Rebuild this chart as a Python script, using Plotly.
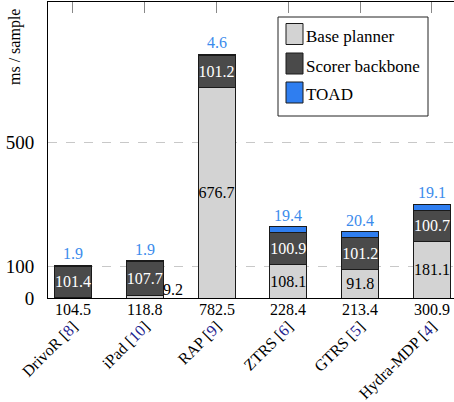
import plotly.graph_objects as go

categories = ["DrivoR", "iPad", "RAP", "ZTRS", "GTRS", "Hydra-MDP"]
citations = ["8", "10", "9", "6", "5", "4"]
base_planner = [1.2, 9.2, 676.7, 108.1, 91.8, 181.1]
scorer_backbone = [101.4, 107.7, 101.2, 100.9, 101.2, 100.7]
toad = [1.9, 1.9, 4.6, 19.4, 20.4, 19.1]
totals = [104.5, 118.8, 782.5, 228.4, 213.4, 300.9]
y_ticks = [0, 100, 500]
series_names = ["Base planner", "Scorer backbone", "TOAD"]

FONT = "Liberation Serif"
C_BASE = "#d3d3d3"
C_SCORER = "#4a4a4a"
C_TOAD = "#2f7ef0"
C_TOAD_TXT = "#3b8bec"
C_CITE = "#23238e"
series_colors = [C_BASE, C_SCORER, C_TOAD]

x = list(range(len(categories)))
ticktext = [f"{c} [<span style='color:{C_CITE}'>{r}</span>]" for c, r in zip(categories, citations)]

base_text = [f"{v:.1f}" if v >= 20 else "" for v in base_planner]
outline = dict(color="#1a1a1a", width=1)

fig = go.Figure()
fig.add_bar(x=x, y=base_planner, name=series_names[0], marker=dict(color=C_BASE, line=outline),
            text=base_text, textposition="inside", insidetextanchor="middle", textangle=0,
            insidetextfont=dict(color="black", size=16, family=FONT), width=0.515)
fig.add_bar(x=x, y=scorer_backbone, name=series_names[1], marker=dict(color=C_SCORER, line=outline),
            text=[f"{v:.1f}" for v in scorer_backbone], textposition="inside", insidetextanchor="middle", textangle=0,
            insidetextfont=dict(color="white", size=16, family=FONT), width=0.515)
fig.add_bar(x=x, y=toad, name=series_names[2], marker=dict(color=C_TOAD, line=outline), width=0.515)

W, H = 454, 402
ML, MR, MT, MB = 48, 0, 2, 104
pw, ph = W - ML - MR, H - MT - MB


def px(xp):
    return (xp - ML) / pw


def py(yp):
    return (H - MB - yp) / ph


annotations = []
shapes = []
for i, (b, s, t) in enumerate(zip(base_planner, scorer_backbone, toad)):
    annotations.append(dict(x=i, y=b + s + t, xref="x", yref="y", text=f"{t:.1f}", showarrow=False,
                            yanchor="bottom", yshift=1, font=dict(size=16, family=FONT, color=C_TOAD_TXT)))
for i, t in enumerate(totals):
    annotations.append(dict(x=i, y=0, xref="x", yref="y", text=f"{t:.1f}", showarrow=False,
                            yanchor="top", yshift=-1, font=dict(size=16, family=FONT, color="black")))
for i, v in enumerate(base_planner):
    if 5 <= v < 20:
        annotations.append(dict(x=i + 0.26, y=0, xref="x", yref="y", text=f"{v:.1f}", showarrow=False,
                                xanchor="left", yanchor="bottom", xshift=-2, yshift=-2,
                                font=dict(size=16, family=FONT, color="black")))
annotations.append(dict(x=px(15), y=py(47), xref="paper", yref="paper", text="ms / sample",
                        showarrow=False, textangle=-90, xanchor="center", yanchor="middle",
                        font=dict(size=16, family=FONT, color="black")))

# custom legend box
shapes.append(dict(type="rect", xref="paper", yref="paper", x0=px(278), x1=px(428), y0=py(116), y1=py(17),
                   line=dict(color="#222", width=1), fillcolor="white", layer="above"))
row_y = [34, 63.5, 92.5]
for name, col, ry in zip(series_names, series_colors, row_y):
    shapes.append(dict(type="rect", xref="paper", yref="paper", x0=px(286), x1=px(303),
                       y0=py(ry + 10.5), y1=py(ry - 10.5), line=dict(color="#1a1a1a", width=1),
                       fillcolor=col, layer="above"))
    annotations.append(dict(x=px(304), y=py(ry + 2.5), xref="paper", yref="paper", text=name, showarrow=False,
                            xanchor="left", yanchor="middle", font=dict(size=17, family=FONT, color="black")))

fig.update_layout(
    width=W, height=H,
    margin=dict(l=ML, r=MR, t=MT, b=MB),
    barmode="stack",
    plot_bgcolor="white", paper_bgcolor="white",
    font=dict(family=FONT, size=16, color="black"),
    uniformtext=dict(minsize=16, mode="show"),
    showlegend=False,
    annotations=annotations,
    shapes=shapes,
)

fig.update_xaxes(range=[-0.348, 5.307], tickmode="array", tickvals=x, ticktext=ticktext, tickangle=-45,
                 showline=True, linecolor="black", linewidth=1, mirror="ticks", ticks="inside", ticklen=11,
                 tickcolor="#888", showgrid=False, ticklabelstandoff=12, layer="below traces",
                 automargin=False, tickfont=dict(size=16, family=FONT))
fig.update_yaxes(range=[0, 950], tickmode="array", tickvals=y_ticks, ticktext=[str(v) for v in y_ticks],
                 showline=True, linecolor="black", linewidth=1, ticks="", showgrid=True, gridcolor="#c8c8c8",
                 griddash="dash", zeroline=False, automargin=False, tickfont=dict(size=19, family=FONT),
                 ticklabelstandoff=9, layer="below traces")

fig.write_html("out.html", config={"displayModeBar": False},
               post_script="document.body.style.margin='0';document.body.style.overflow='hidden';")
